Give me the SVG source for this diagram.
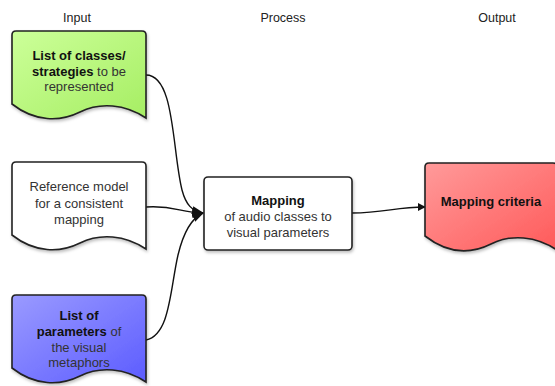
<svg xmlns="http://www.w3.org/2000/svg" width="555" height="386" viewBox="0 0 555 386">
<style>
text{font-family:"Liberation Sans",Arial,sans-serif;font-size:13px;fill:#333;text-anchor:middle}
.b{font-weight:bold;fill:#111}
.h{font-size:12.5px;fill:#222}
.shape{stroke:#222;stroke-width:1.6;filter:url(#sh)}
.conn{fill:none;stroke:#111;stroke-width:1.4}
</style>
<defs>
<filter id="sh" x="-10%" y="-10%" width="130%" height="130%">
<feDropShadow dx="1" dy="2" stdDeviation="1.5" flood-color="#000" flood-opacity="0.25"/>
</filter>
<linearGradient id="gG" x1="0" y1="0" x2="1" y2="1"><stop offset="0" stop-color="#ccff99"/><stop offset="1" stop-color="#a6ee63"/></linearGradient>
<linearGradient id="gB" x1="0" y1="0" x2="1" y2="1"><stop offset="0" stop-color="#9a9aff"/><stop offset="1" stop-color="#5c5cff"/></linearGradient>
<linearGradient id="gR" x1="0" y1="0" x2="1" y2="1"><stop offset="0" stop-color="#ff9a9a"/><stop offset="1" stop-color="#ff5a5a"/></linearGradient>
<marker id="ar" viewBox="0 0 10 10" refX="9" refY="5" markerWidth="8" markerHeight="8" markerUnits="userSpaceOnUse" orient="auto"><path d="M0,0 L10,5 L0,10 Z" fill="#111"/></marker>
<marker id="ar2" viewBox="0 0 10 10" refX="9" refY="5" markerWidth="12" markerHeight="12" markerUnits="userSpaceOnUse" orient="auto"><path d="M0,1 L10,5 L0,9 Z" fill="#111"/></marker>
</defs>
<g id="headers">
<text class="h" x="77" y="22">Input</text>
<text class="h" x="283" y="22">Process</text>
<text class="h" x="497" y="22">Output</text>
</g>
<g id="connectors">
<path class="conn" d="M146,75 C175,75 172,150 182,190 C186,205 192,211 203,213" marker-end="url(#ar2)"/>
<path class="conn" d="M146,207 C175,205 180,213 203,213" marker-end="url(#ar2)"/>
<path class="conn" d="M146,340 C170,335 170,290 178,255 C184,230 192,218 203,213" marker-end="url(#ar2)"/>
<path class="conn" d="M352,213 C385,213 395,207 425,207" marker-end="url(#ar)"/>
</g>
<g id="classes">
<path class="shape" fill="url(#gG)" d="M12,35 Q12,31 16,31 L142,31 Q146,31 146,35 L146,118 C125,104 100,102 80,112 C60,122 35,122 12,104 Z"/>
<text class="b" x="79" y="60">List of classes/</text>
<text x="79" y="76"><tspan class="b">strategies</tspan> to be</text>
<text x="79" y="91">represented</text>
</g>
<g id="reference">
<path class="shape" fill="#fff" d="M12,166 Q12,162 16,162 L142,162 Q146,162 146,166 L146,249 C125,235 100,233 80,243 C60,253 35,253 12,235 Z"/>
<text x="79" y="191">Reference model</text>
<text x="79" y="208">for a consistent</text>
<text x="79" y="224">mapping</text>
</g>
<g id="parameters">
<path class="shape" fill="url(#gB)" d="M12,299 Q12,295 16,295 L142,295 Q146,295 146,299 L146,382 C125,368 100,366 80,376 C60,386 35,386 12,368 Z"/>
<text class="b" x="79" y="320">List of</text>
<text x="79" y="336"><tspan class="b">parameters</tspan> of</text>
<text x="79" y="352">the visual</text>
<text x="79" y="367">metaphors</text>
</g>
<g id="mapping">
<rect class="shape" fill="#fff" x="204" y="177" width="148" height="73" rx="4"/>
<text class="b" x="278" y="205">Mapping</text>
<text x="278" y="221">of audio classes to</text>
<text x="278" y="237">visual parameters</text>
</g>
<g id="criteria">
<path class="shape" fill="url(#gR)" d="M425,167 Q425,163 429,163 L553,163 Q557,163 557,167 L557,250 C536,236 511,234 491,244 C471,254 448,254 425,236 Z"/>
<text class="b" x="491" y="206">Mapping criteria</text>
</g>
</svg>
